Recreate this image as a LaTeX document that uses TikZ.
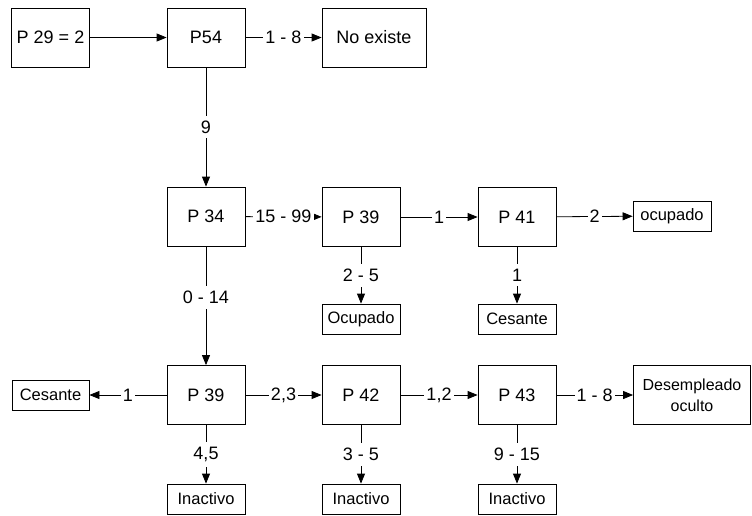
\documentclass[tikz,border=0pt]{standalone}
\usepackage{fontspec}
\setmainfont{Liberation Sans}
\usetikzlibrary{arrows.meta}
\tikzset{
  box/.style={draw, line width=0.8pt, minimum width=78pt, minimum height=59pt, inner sep=0pt, font=\fontsize{18}{21}\selectfont},
  smallbox/.style={box, minimum height=30pt, font=\fontsize{16.5}{19}\selectfont},
  arr/.style={-{Triangle[length=10pt,width=8pt]}, line width=0.8pt},
  lbl/.style={fill=white, inner xsep=2pt, inner ysep=5pt, font=\fontsize{18}{21}\selectfont}
}
\begin{document}
\begin{tikzpicture}[x=1pt,y=-1pt]
\useasboundingbox (0,0) rectangle (752,515);
% top row
\node[box] (p29) at (50.5,37.5) {P 29 = 2};
\node[box] (p54) at (206,37.5) {P54};
\node[box, minimum width=104pt] (noex) at (374,37.5) {No existe};
% middle row
\node[box] (p34) at (206,216.5) {P 34};
\node[box] (p39a) at (361,217) {P 39};
\node[box] (p41) at (517,217) {P 41};
\node[smallbox] (ocup) at (672,216) {ocupado};
\node[smallbox] (Ocup) at (361,319) {Ocupado};
\node[smallbox] (cesM) at (517,319) {Cesante};
% bottom row
\node[smallbox, minimum width=77pt] (cesL) at (50.5,395) {Cesante};
\node[box] (p39b) at (206,395) {P 39};
\node[box] (p42) at (361,395) {P 42};
\node[box] (p43) at (517,395) {P 43};
\node[box, minimum width=117pt, align=center, font=\fontsize{16}{21}\selectfont] (desem) at (692,395) {Desempleado\\oculto};
\foreach \Name/\X in {inA/206, inB/361, inC/517}{
    \node[smallbox] (\Name) at (\X,499) {Inactivo};
}
% connectors
\draw[arr] (p29) -- (p54);
\draw[arr] (p34) -- node[lbl, pos=0.43] {0 - 14} (p39b);
\foreach \Src/\Dst/\Lbl in {p54/noex/{1 - 8}, p54/p34/9, p34/p39a/{15 - 99}, p39a/p41/1, p41/ocup/2,
    p39a/Ocup/{2 - 5}, p41/cesM/1, p39b/cesL/1, p39b/p42/{2,3}, p42/p43/{1,2}, p43/desem/{1 - 8},
    p39b/inA/{4,5}, p42/inB/{3 - 5}, p43/inC/{9 - 15}}{
    \draw[arr] (\Src) -- node[lbl] {\Lbl} (\Dst);
}
\end{tikzpicture}
\end{document}
